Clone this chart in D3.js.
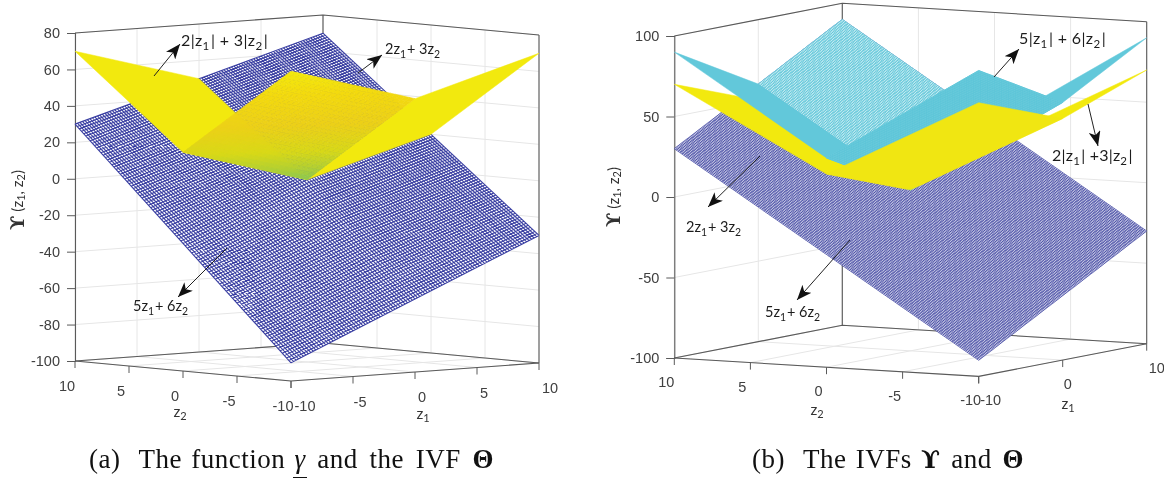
<!DOCTYPE html>
<html><head><meta charset="utf-8">
<script src="https://cdn.jsdelivr.net/npm/d3@7"></script>
<style>
html,body{margin:0;padding:0;background:#fff}
svg{display:block;filter:blur(.35px)}
.tick-t{font-family:"Liberation Sans",sans-serif;font-size:14.5px;fill:#404040}
.note{font-family:Lato,"Open Sans",sans-serif;fill:#1c1c1c}
.cap{font-family:"Liberation Serif",serif;font-size:27px;fill:#111;letter-spacing:.5px;word-spacing:2px}
</style></head><body>
<svg id="chart" width="1164" height="480" viewBox="0 0 1164 480"></svg>
<script>
// ---- values ----
const gridNodes = [-10, 0, 10];               // z1 and z2 nodes of the height tables
// height tables: rows are z1 = -10,0,10 ; columns are z2 = -10,0,10
const yellowTable    = [[70,20,70],[50,0,50],[70,20,70]];
const cyanTable      = [[90,30,90],[60,0,60],[90,30,90]];
const blueTableA     = [[-90,-30,30],[-60,0,50],[-30,20,70]];
const blueTableB     = [[-90,-30,30],[-60,0,60],[-30,30,90]];
const z1TicksA = [-10,-5,0,5,10];
const z2TicksA = [10,5,0,-5,-10];
const zTicksA  = [-100,-80,-60,-40,-20,0,20,40,60,80];
const z1TicksB = [-10,0,10];
const z2TicksB = [10,5,0,-5,-10];
const zTicksB  = [-100,-50,0,50,100];
const captionA = ["(a)  The function ","γ"," and the IVF ","Θ"];
const captionB = ["(b)  The IVFs ","ϒ"," and ","Θ"];

// ---- layout ----
const layoutA = {left:[75,361],back:[323,343],right:[539,363],front:[291,381],zDom:[-100,80],zPx:328,step:.2,title:[19,200]};
const layoutB = {left:[674.3,358],back:[842.3,325.3],right:[1146.7,343.7],front:[978.7,376.4],zDom:[-100,100],zPx:322,step:.125,title:[615,197]};
const C = {blue:"#3a3fa2",blueB:"#383d9e",cyan:"#5cc5d8",yellow:"#f2e90e",frame:"#5a5a5a",grid:"#e6e6e6"};

const svg = d3.select("#chart");

function heightAt(tbl,z1,z2){
  const i = z1<0?0:1, j = z2<0?0:1;
  const u = (z1-gridNodes[i])/10, v=(z2-gridNodes[j])/10;
  return (1-u)*(1-v)*tbl[i][j]+u*(1-v)*tbl[i+1][j]+(1-u)*v*tbl[i][j+1]+u*v*tbl[i+1][j+1];
}

function makePanel(L){
  const dom=[-10,10];
  const z1x=d3.scaleLinear(dom,[0,L.right[0]-L.front[0]]), z1y=d3.scaleLinear(dom,[0,L.right[1]-L.front[1]]);
  const z2x=d3.scaleLinear(dom,[0,L.left[0]-L.front[0]]),  z2y=d3.scaleLinear(dom,[0,L.left[1]-L.front[1]]);
  const zS =d3.scaleLinear(L.zDom,[0,-L.zPx]);
  const P=(z1,z2,z)=>[L.front[0]+z1x(z1)+z2x(z2), L.front[1]+z1y(z1)+z2y(z2)+zS(z)];
  const g=svg.append("g");
  const line=(pts,stroke,w)=>g.append("path").attr("d",d3.line()(pts)).attr("fill","none").attr("stroke",stroke).attr("stroke-width",w);
  const quad={left:[-10,0,0,10],right:[0,10,-10,0],front:[-10,0,-10,0],back:[0,10,0,10],all:[-10,10,-10,10]};
  const poly=(tbl,q)=>{const [a,b,c,d]=quad[q];
    return [[a,c],[b,c],[b,d],[a,d]].map(([u,v])=>P(u,v,heightAt(tbl,u,v)));};
  const solid=(tbl,q,fill)=>g.append("path").attr("d",d3.line()(poly(tbl,q))+"Z").attr("fill",fill).attr("stroke",fill).attr("stroke-width",.5);
  const polyAll=(tbl,fill)=>{
    const pts=[[-10,-10],[0,-10],[10,-10],[10,0],[10,10],[0,10],[-10,10],[-10,0]].map(([u,v])=>P(u,v,heightAt(tbl,u,v)));
    g.append("path").attr("d",d3.line()(pts)+"Z").attr("fill",fill);
  };
  const mesh=(tbl,q,stroke,w,step)=>{
    const [a,b,c,d]=quad[q];
    let s="";
    const n1=Math.round((b-a)/step), n2=Math.round((d-c)/step);
    const br=[-10,0,10];
    for(let k=0;k<=n1;k++){const u=a+k*step; const vs=[c,...br.filter(x=>x>c&&x<d),d];
      s+=d3.line()(vs.map(v=>P(u,v,heightAt(tbl,u,v))));}
    for(let k=0;k<=n2;k++){const v=c+k*step; const us=[a,...br.filter(x=>x>a&&x<b),b];
      s+=d3.line()(us.map(u=>P(u,v,heightAt(tbl,u,v))));}
    g.append("path").attr("d",s).attr("fill","none").attr("stroke",stroke).attr("stroke-width",w);
  };
  return {L,P,g,line,solid,mesh,polyAll,zS,quad,heightAt};
}

function frame(pn,zTicks,z1Ticks,z2Ticks,offs){
  const {L,P,g,line}=pn; const [zMin,zMax]=L.zDom;
  zTicks.forEach(t=>{line([P(-10,10,t),P(10,10,t),P(10,-10,t)],C.grid,1);});
  z1Ticks.forEach(t=>{line([P(t,-10,zMin),P(t,10,zMin),P(t,10,zMax)],C.grid,1);});
  z2Ticks.forEach(t=>{line([P(-10,t,zMin),P(10,t,zMin),P(10,t,zMax)],C.grid,1);});
  line([P(-10,10,zMax),P(10,10,zMax),P(10,-10,zMax)],C.frame,1.1);
  line([P(10,10,zMin),P(10,10,zMax)],C.frame,1.1);
  line([P(10,-10,zMin),P(10,-10,zMax)],C.frame,1.1);
  line([P(-10,10,zMin),P(10,10,zMin),P(10,-10,zMin)],C.frame,1.1);
  line([P(-10,10,zMin),P(-10,-10,zMin),P(10,-10,zMin)],C.frame,1.1);
  const y0=P(-10,10,zMin)[1], y1=P(-10,10,zMax)[1];
  const axis=d3.axisLeft(d3.scaleLinear(L.zDom,[y0,y1])).tickValues(zTicks).tickSize(8).tickPadding(7).tickFormat(d=>String(d));
  const ag=g.append("g").attr("transform",`translate(${L.left[0]},0)`).call(axis);
  ag.select(".domain").attr("stroke",C.frame).attr("stroke-width",1.1);
  ag.selectAll("line").attr("stroke",C.frame).attr("stroke-width",1);
  ag.selectAll("text").attr("class","tick-t").attr("font-size",null).attr("font-family",null);
  const tl=7;
  z2Ticks.forEach(t=>{const p=P(-10,t,zMin); line([p,[p[0],p[1]+tl]],C.frame,1);
    g.append("text").attr("class","tick-t").attr("text-anchor","middle").attr("x",p[0]+offs.z2[0]).attr("y",p[1]+offs.z2[1]).text(t);});
  z1Ticks.forEach(t=>{const p=P(t,-10,zMin); line([p,[p[0],p[1]+tl]],C.frame,1);
    const extra = t===-10?offs.z1Low:(t===10?offs.z1High:0);
    g.append("text").attr("class","tick-t").attr("text-anchor","middle").attr("x",p[0]+offs.z1[0]+extra).attr("y",p[1]+offs.z1[1]).text(t);});
}

function note(parts,x,y,size,ls){
  const t=svg.append("text").attr("class","note").attr("x",x).attr("y",y).style("font-size",size+"px").style("letter-spacing",(ls||0)+"px");
  parts.forEach(p=>{
    if(p[0]==="_"){ t.append("tspan").attr("dy",3.5).style("font-size",size*.72+"px").text(p.slice(1));
                    t.append("tspan").attr("dy",-3.5).text("\u200a"); }
    else t.append("tspan").text(p);
  });
  return t;
}
const defs=svg.append("defs");
defs.append("marker").attr("id","ah").attr("viewBox","0 0 15 12").attr("refX",15).attr("refY",6).attr("markerWidth",15).attr("markerHeight",12).attr("markerUnits","userSpaceOnUse").attr("orient","auto")
  .append("path").attr("d","M0,0L15,6L0,12L4,6Z").attr("fill","#111");
function arrow(a,b){
  svg.append("line").attr("x1",a[0]).attr("y1",a[1]).attr("x2",b[0]).attr("y2",b[1]).attr("stroke","#222").attr("stroke-width",1).attr("marker-end","url(#ah)");
}
function title(pos){
  const t=svg.append("text").attr("transform",`translate(${pos[0]},${pos[1]}) rotate(-90)`).attr("text-anchor","middle").attr("dominant-baseline","middle")
    .style("font-family",'Lato,sans-serif').style("font-size","15px").style("fill","#333");
  t.append("tspan").style("font-family",'"DejaVu Serif",serif').style("font-weight","bold").style("font-size","19px").text("ϒ");
  t.append("tspan").text(" (z");
  t.append("tspan").attr("dy",3).style("font-size","11px").text("1");
  t.append("tspan").attr("dy",-3).text(", z");
  t.append("tspan").attr("dy",3).style("font-size","11px").text("2");
  t.append("tspan").attr("dy",-3).text(")");
}
function axisName(s,sub,x,y){
  const t=svg.append("text").attr("x",x).attr("y",y).attr("text-anchor","middle").style("font-family","Lato,sans-serif").style("font-size","15px").style("fill","#333");
  t.append("tspan").text(s);
  t.append("tspan").attr("dy",3).style("font-size","11px").text(sub);
}
function caption(parts,x,y,boldIdx,italicIdx,laterGap){
  const t=svg.append("text").attr("class","cap").attr("x",x).attr("y",y).style("white-space","pre");
  parts.forEach((p,i)=>{
    const s=t.append("tspan").text(p);
    if(i===2) s.style("word-spacing",laterGap+"px");
    if(italicIdx.includes(i)) s.style("font-style","italic");
    if(boldIdx.includes(i)){
      s.style("font-weight","bold");
      if(p==="ϒ") s.style("font-family",'"DejaVu Serif",serif').style("font-size","25px");
    }
  });
}

// ---------------- panel (a) ----------------
const A=makePanel(layoutA);
frame(A,zTicksA,z1TicksA,z2TicksA,{z2:[-8,30],z1:[7,30],z1Low:7,z1High:4});
A.polyAll(blueTableA,"#fff");
A.mesh(blueTableA,"all",C.blue,1.1,layoutA.step);
A.solid(yellowTable,"left",C.yellow);
A.solid(yellowTable,"right",C.yellow);
const heat=d3.scaleLinear().domain([0,8,18,35,55,70]).range(["#8cc850","#b5d030","#d8d818","#ecd018","#f3da0e","#f3ea0c"]);
(function(){ // height-coloured front facet
  const s=.4; const g=A.g.append("g");
  d3.range(-10,-1e-6,s).forEach(u=>d3.range(-10,-1e-6,s).forEach(v=>{
    const c=[[u,v],[u+s,v],[u+s,v+s],[u,v+s]].map(([a,b])=>A.P(a,b,heightAt(yellowTable,a,b)));
    const col=heat(heightAt(yellowTable,u+s/2,v+s/2));
    g.append("path").attr("d",d3.line()(c)+"Z").attr("fill",col).attr("stroke",col).attr("stroke-width",.6);
  }));
})();

// ---------------- panel (b) ----------------
const B=makePanel(layoutB);
frame(B,zTicksB,z1TicksB,z2TicksB,{z2:[-8,29],z1:[5,29],z1Low:7,z1High:5});
B.polyAll(blueTableB,"#fff");
B.mesh(blueTableB,"all",C.blueB,.72,layoutB.step);
B.solid(blueTableB,"back","#fff");
B.mesh(cyanTable,"back",C.cyan,.85,layoutB.step);
B.solid(yellowTable,"left",C.yellow);
B.solid(yellowTable,"right",C.yellow);
B.solid(cyanTable,"left","#62c8da");
B.solid(cyanTable,"right","#62c8da");
B.solid(cyanTable,"front","#8fd8e4");
B.mesh(cyanTable,"front",C.cyan,.9,layoutB.step);
B.solid(yellowTable,"front","#f0e612");

// ---------------- annotations ----------------
const barSize=16, planeSize=14.5;
arrow([154,76],[180,44]); note(["2|z","_1","| + 3|z","_2","|"],181,46,barSize,.35);
arrow([358,73],[382,55]); note(["2z","_1","+ 3z","_2"],385,54,planeSize);
arrow([227,248],[178,297]); note(["5z","_1","+ 6z","_2"],133,311,planeSize);
arrow([994,77],[1019,49]); note(["5|z","_1","| + 6|z","_2","|"],1019,44,barSize,.35);
arrow([1088,104],[1098,146]); note(["2|z","_1","| +3|z","_2","|"],1052,161,barSize,.2);
arrow([760,156],[708,207]); note(["2z","_1","+ 3z","_2"],686,232,planeSize);
arrow([850,240],[797,300]); note(["5z","_1","+ 6z","_2"],765,317,planeSize);

title(layoutA.title); title(layoutB.title);
axisName("z","2",180,417); axisName("z","1",423,419);
axisName("z","2",817,415); axisName("z","1",1068,409);

caption(captionA,89,468,[3],[1],4.5);
caption(captionB,752,468,[1,3],[],3.5);
svg.append("line").attr("x1",293).attr("x2",307).attr("y1",477.5).attr("y2",477.5).attr("stroke","#111").attr("stroke-width",1);
</script>
</body></html>
